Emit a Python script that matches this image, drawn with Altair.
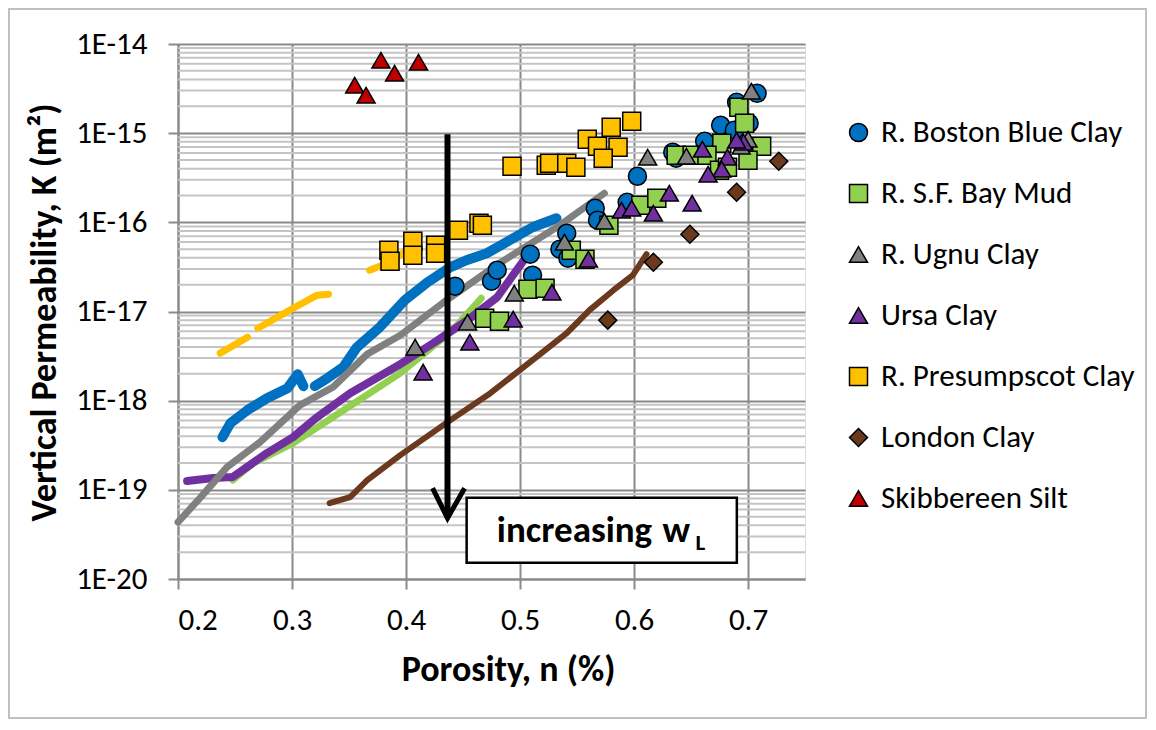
import altair as alt
import pandas as pd

FONT = "Carlito, Lato, sans-serif"

SERIES = ["R. Boston Blue Clay", "R. S.F. Bay Mud", "R. Ugnu Clay", "Ursa Clay",
          "R. Presumpscot Clay", "London Clay", "Skibbereen Silt"]
COLORS = ["#0070C0", "#92D050", "#808080", "#7030A0", "#FFC000", "#6B3A1E", "#C00000"]
SHAPES = ["circle", "square", "triangle-up", "triangle-up", "square", "diamond", "triangle-up"]
OUTLINES = ["black"] * 7

# ---- measured points: porosity n and log10(K) ----
boston_n = [0.708, 0.690, 0.676, 0.688, 0.701, 0.662, 0.634, 0.637, 0.603, 0.566, 0.594, 0.568,
            0.541, 0.535, 0.542, 0.509, 0.511, 0.475, 0.480, 0.443]
boston_logk = [-14.553, -14.654, -14.911, -14.967, -14.889, -15.091, -15.214, -15.281, -15.483,
               -15.842, -15.775, -15.976, -16.122, -16.301, -16.402, -16.357, -16.593, -16.660,
               -16.537, -16.716]
sfbay_n = [0.692, 0.697, 0.677, 0.712, 0.700, 0.637, 0.651, 0.664, 0.675, 0.682, 0.606, 0.620,
           0.578, 0.545, 0.557, 0.507, 0.522, 0.469, 0.482]
sfbay_logk = [-14.710, -14.889, -15.113, -15.147, -15.304, -15.248, -15.248, -15.248, -15.416,
              -15.382, -15.808, -15.730, -16.032, -16.313, -16.414, -16.750, -16.739, -17.075,
              -17.109]
ugnu_n = [0.703, 0.700, 0.694, 0.646, 0.612, 0.574, 0.539, 0.495, 0.454, 0.408]
ugnu_logk = [-14.530, -15.068, -15.147, -15.259, -15.270, -15.988, -16.223, -16.795, -17.120, -17.400]
ursa_n = [0.696, 0.690, 0.660, 0.682, 0.677, 0.665, 0.631, 0.651, 0.589, 0.598, 0.617, 0.560,
          0.528, 0.494, 0.456, 0.415]
ursa_logk = [-15.102, -15.080, -15.180, -15.270, -15.405, -15.461, -15.674, -15.786, -15.864,
             -15.842, -15.898, -16.414, -16.783, -17.086, -17.344, -17.680]
presump_n = [0.493, 0.523, 0.526, 0.541, 0.549, 0.559, 0.568, 0.580, 0.586, 0.573, 0.598, 0.446,
             0.464, 0.467, 0.406, 0.406, 0.426, 0.426, 0.385, 0.386]
presump_logk = [-15.371, -15.360, -15.337, -15.337, -15.382, -15.068, -15.147, -14.934, -15.158,
                -15.281, -14.867, -16.088, -16.010, -16.032, -16.212, -16.369, -16.257, -16.347,
                -16.313, -16.436]
london_n = [0.727, 0.690, 0.649, 0.617, 0.577]
london_logk = [-15.315, -15.662, -16.133, -16.447, -17.097]
skib_n = [0.355, 0.365, 0.378, 0.390, 0.411]
skib_logk = [-14.463, -14.575, -14.183, -14.328, -14.205]

# ---- measured continuous curves (n, log10 K, segment id) ----
boston_line_n = [0.239, 0.246, 0.261, 0.278, 0.296, 0.305, 0.310,
                 0.320, 0.331, 0.345, 0.357, 0.377, 0.399, 0.419, 0.439, 0.453, 0.471, 0.491, 0.511, 0.532]
boston_line_logk = [-18.409, -18.252, -18.106, -17.972, -17.860, -17.703, -17.837,
                    -17.837, -17.748, -17.624, -17.400, -17.176, -16.873, -16.671, -16.503, -16.425,
                    -16.346, -16.201, -16.055, -15.954]
boston_line_seg = [1] * 7 + [2] * 13
sfbay_line_n = [0.248, 0.266, 0.301, 0.336, 0.395, 0.441, 0.466]
sfbay_line_logk = [-18.891, -18.700, -18.476, -18.185, -17.691, -17.209, -16.851]
sfbay_line_seg = [1] * 7
ugnu_line_n = [0.200, 0.220, 0.243, 0.272, 0.307, 0.336, 0.366, 0.395, 0.432, 0.482, 0.535, 0.574]
ugnu_line_logk = [-19.362, -19.082, -18.745, -18.465, -18.050, -17.848, -17.478, -17.266, -16.907,
                  -16.458, -16.032, -15.674]
ugnu_line_seg = [1] * 12
ursa_line_n = [0.208, 0.231, 0.248, 0.278, 0.301, 0.322, 0.351, 0.395, 0.424, 0.454, 0.480, 0.497, 0.506]
ursa_line_logk = [-18.902, -18.868, -18.857, -18.588, -18.409, -18.185, -17.916, -17.591, -17.355,
                  -17.097, -16.840, -16.537, -16.380]
ursa_line_seg = [1] * 13
presump_line_n = [0.237, 0.249, 0.261, 0.270, 0.301, 0.322, 0.332, 0.368, 0.386, 0.404]
presump_line_logk = [-17.467, -17.378, -17.288, -17.187, -16.963, -16.817, -16.806, -16.537, -16.447, -16.290]
presump_line_seg = [1, 1, 1, 2, 2, 2, 2, 3, 3, 3]
london_line_n = [0.333, 0.351, 0.366, 0.395, 0.439, 0.474, 0.511, 0.541, 0.561, 0.582, 0.599, 0.611]
london_line_logk = [-19.149, -19.082, -18.891, -18.611, -18.218, -17.916, -17.546, -17.243, -16.985,
                    -16.761, -16.593, -16.357]
london_line_seg = [1] * 12

# ---- axes ----
X_TICKS = [0.2, 0.3, 0.4, 0.5, 0.6, 0.7]
X_DOMAIN = [0.2, 0.75]
Y_DECADES = [1e-20, 1e-19, 1e-18, 1e-17, 1e-16, 1e-15, 1e-14]
MINOR_MULT = [2, 3, 4, 5, 6, 7, 8, 9]

# ---- annotation (arrow and box), data coordinates ----
arrow_n = [0.4364]
arrow_top_logk = [-15.012]
arrow_tip_logk = [-19.317]
head_n = [0.4233, 0.4364, 0.4514]
head_logk = [-18.981, -19.317, -18.981]
box_n = [0.4532, 0.6902]
box_logk = [-19.089, -19.818]
label_text = ["increasing", "w", "L"]
label_n = [0.4797, 0.6251, 0.6540]
label_logk = [-19.583, -19.583, -19.676]
label_size = [37, 37, 23]

# ---------------- build tables ----------------
pts_src = [
    (boston_n, boston_logk), (sfbay_n, sfbay_logk), (ugnu_n, ugnu_logk), (ursa_n, ursa_logk),
    (presump_n, presump_logk), (london_n, london_logk), (skib_n, skib_logk),
]
rows = []
idx = 0
for s, (ns, ks) in zip(SERIES, pts_src):
    for n, k in zip(ns, ks):
        rows.append({"series": s, "n": n, "K": 10 ** k, "idx": idx})
        idx += 1
pts = pd.DataFrame(rows)

line_src = {
    "R. Boston Blue Clay": (boston_line_n, boston_line_logk, boston_line_seg),
    "R. S.F. Bay Mud": (sfbay_line_n, sfbay_line_logk, sfbay_line_seg),
    "R. Ugnu Clay": (ugnu_line_n, ugnu_line_logk, ugnu_line_seg),
    "Ursa Clay": (ursa_line_n, ursa_line_logk, ursa_line_seg),
    "R. Presumpscot Clay": (presump_line_n, presump_line_logk, presump_line_seg),
    "London Clay": (london_line_n, london_line_logk, london_line_seg),
}
LINE_WIDTH = {"R. Boston Blue Clay": 10, "R. S.F. Bay Mud": 7, "R. Ugnu Clay": 7,
              "Ursa Clay": 8, "R. Presumpscot Clay": 7, "London Clay": 6}
LINE_ORDER = ["R. S.F. Bay Mud", "Ursa Clay", "R. Boston Blue Clay", "R. Ugnu Clay",
              "R. Presumpscot Clay", "London Clay"]

minor = pd.DataFrame({"K": [d * m for d in Y_DECADES[:-1] for m in MINOR_MULT]})

GRID_MAJOR = "#8A8A8A"
GRID_MINOR = "#C4C4C4"

x_axis = alt.Axis(values=X_TICKS, format=".1f", grid=True, gridColor=GRID_MAJOR, gridWidth=2,
                  domainColor=GRID_MAJOR, domainWidth=2, tickColor=GRID_MAJOR, tickWidth=2,
                  tickSize=10, labelFontSize=31, labelPadding=16, labelColor="black",
                  labelFont=FONT, title="Porosity, n (%)", titleFont=FONT, titleFontSize=36,
                  titleFontWeight="bold", titleColor="black", titleX=330, titleY=101,
                  titleBaseline="alphabetic", titleAlign="center")
y_axis = alt.Axis(values=Y_DECADES, grid=True, gridColor=GRID_MAJOR, gridWidth=2,
                  domainColor=GRID_MAJOR, domainWidth=2, tickColor=GRID_MAJOR, tickWidth=2,
                  tickSize=10, labelFontSize=31, labelPadding=21, labelColor="black",
                  labelFont=FONT,
                  labelExpr="'1E-' + round(-log(datum.value) / LN10)",
                  title="Vertical Permeability, K (m\u00b2)", titleFont=FONT, titleFontSize=36,
                  titleFontWeight="bold", titleColor="black", titleX=-123, titleY=268,
                  titleBaseline="alphabetic", titleAlign="center", titleAngle=270)

X = alt.X("n:Q", scale=alt.Scale(domain=X_DOMAIN, nice=False, zero=False), axis=x_axis)
Y = alt.Y("K:Q", scale=alt.Scale(type="log", domain=[1e-20, 1e-14], nice=False), axis=y_axis)

grid_layer = alt.Chart(minor).mark_rule(color=GRID_MINOR, strokeWidth=2).encode(y=Y)

line_layers = []
for s in LINE_ORDER:
    ns, ks, sg = line_src[s]
    df = pd.DataFrame({"n": ns, "K": [10 ** k for k in ks], "seg": sg,
                       "idx": list(range(len(ns)))})
    c = COLORS[SERIES.index(s)]
    line_layers.append(
        alt.Chart(df).mark_line(color=c, strokeWidth=LINE_WIDTH[s], strokeCap="round",
                                strokeJoin="round").encode(x=X, y=Y, detail="seg:N",
                                                           order="idx:Q"))

leg = alt.Legend(title=None, orient="none", legendX=665, legendY=73, padding=0,
                 labelFont=FONT, labelFontSize=31, labelColor="black", labelLimit=400,
                 labelOffset=7, symbolSize=324, symbolStrokeColor="black",
                 symbolStrokeWidth=1.5, rowPadding=29, symbolOpacity=1)

points = alt.Chart(pts).mark_point(filled=True, size=324, strokeWidth=1.5,
                                   opacity=1).encode(
    x=X, y=Y,
    fill=alt.Fill("series:N", scale=alt.Scale(domain=SERIES, range=COLORS), legend=leg),
    shape=alt.Shape("series:N", scale=alt.Scale(domain=SERIES, range=SHAPES), legend=leg),
    stroke=alt.Stroke("series:N", scale=alt.Scale(domain=SERIES, range=OUTLINES), legend=leg),
    order=alt.Order("idx:Q"),
)

arrow_df = pd.DataFrame({"n": arrow_n, "K": [10 ** k for k in arrow_top_logk],
                         "K2": [10 ** k for k in arrow_tip_logk]})
shaft = alt.Chart(arrow_df).mark_rule(color="black", strokeWidth=6).encode(
    x=X, y=Y, y2="K2:Q")
head_df = pd.DataFrame({"n": head_n, "K": [10 ** k for k in head_logk], "idx": [0, 1, 2]})
head = alt.Chart(head_df).mark_line(color="black", strokeWidth=5, strokeJoin="miter").encode(
    x=X, y=Y, order="idx:Q")

box_df = pd.DataFrame({"n": [box_n[0]], "n2": [box_n[1]], "K": [10 ** box_logk[0]],
                       "K2": [10 ** box_logk[1]]})
box = alt.Chart(box_df).mark_rect(fill="white", stroke="black", strokeWidth=2.5).encode(
    x=X, x2="n2:Q", y=Y, y2="K2:Q")

lab_df = pd.DataFrame({"n": label_n, "K": [10 ** k for k in label_logk], "t": label_text,
                       "fs": label_size})
labels = alt.Chart(lab_df).mark_text(align="left", baseline="alphabetic", fontWeight="bold",
                                     font=FONT, color="black").encode(
    x=X, y=Y, text="t:N", size=alt.Size("fs:Q", scale=None, legend=None))

border = alt.Chart(pd.DataFrame({"a": [0]})).mark_rect(
    fill="white", fillOpacity=0, stroke="#C0C0C0", strokeWidth=2).encode(
    x=alt.value(-169), x2=alt.value(968), y=alt.value(-35), y2=alt.value(674))

chart = alt.layer(grid_layer, *line_layers, points, shaft, head, box, labels, border).properties(
    width=627, height=535,
    autosize=alt.AutoSizeParams(type="none"),
    padding={"left": 170, "top": 36, "right": 343, "bottom": 141},
).configure_view(stroke=None).configure(font=FONT)

chart.save("out.html", embed_options={"renderer": "svg", "actions": False})
